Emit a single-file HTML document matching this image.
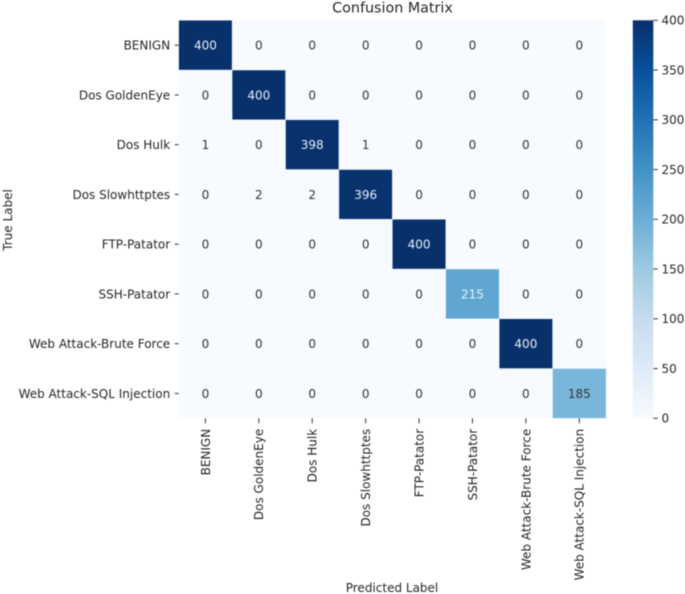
<!DOCTYPE html>
<html>
<head>
<meta charset="utf-8">
<title>Confusion Matrix</title>
<style>
html,body{margin:0;padding:0;background:#fff;width:685px;height:594px;overflow:hidden}
svg{display:block;filter:blur(0.45px)}
text{font-family:"DejaVu Sans",sans-serif;fill:#262626}
</style>
</head>
<body>
<svg id="chart" width="685" height="594" viewBox="0 0 685 594" xmlns="http://www.w3.org/2000/svg">
<defs>
<linearGradient id="blues" x1="0" y1="1" x2="0" y2="0">
<stop offset="0" stop-color="#f7fbff"/>
<stop offset="0.125" stop-color="#deebf7"/>
<stop offset="0.25" stop-color="#c6dbef"/>
<stop offset="0.375" stop-color="#9ecae1"/>
<stop offset="0.5" stop-color="#6baed6"/>
<stop offset="0.625" stop-color="#4292c6"/>
<stop offset="0.75" stop-color="#2171b5"/>
<stop offset="0.875" stop-color="#08519c"/>
<stop offset="1" stop-color="#08306b"/>
</linearGradient>
</defs>
<text x="392.5" y="12.5" font-size="14.3" text-anchor="middle">Confusion Matrix</text>
<text x="392" y="592" font-size="12" text-anchor="middle">Predicted Label</text>
<text x="0" y="0" font-size="12" text-anchor="middle" transform="translate(12,220) rotate(-90)">True Label</text>
<g id="cells"></g>
<g id="xaxis"></g>
<g id="yaxis"></g>
<rect x="632.8" y="20.3" width="20.5" height="398" fill="url(#blues)"></rect>
<g id="cbar"></g>
</svg>
<script>
const categories = ["BENIGN","Dos GoldenEye","Dos Hulk","Dos Slowhttptes","FTP-Patator","SSH-Patator","Web Attack-Brute Force","Web Attack-SQL Injection"];
const row0 = [400,0,0,0,0,0,0,0];
const row1 = [0,400,0,0,0,0,0,0];
const row2 = [1,0,398,1,0,0,0,0];
const row3 = [0,2,2,396,0,0,0,0];
const row4 = [0,0,0,0,400,0,0,0];
const row5 = [0,0,0,0,0,215,0,0];
const row6 = [0,0,0,0,0,0,400,0];
const row7 = [0,0,0,0,0,0,0,185];
const matrix = [row0,row1,row2,row3,row4,row5,row6,row7];
const colorbarTicks = [0,50,100,150,200,250,300,350,400];
const blues = ["#f7fbff","#deebf7","#c6dbef","#9ecae1","#6baed6","#4292c6","#2171b5","#08519c","#08306b"];

const NS = "http://www.w3.org/2000/svg";
const plotLeft = 178.7, plotRight = 606, plotTop = 20.3, plotBottom = 418.3;
const maxValue = 400;
const n = categories.length;
const xBand = i => plotLeft + (plotRight - plotLeft) * i / n;
const yBand = i => plotTop + (plotBottom - plotTop) * i / n;
const cbarY = v => plotBottom - (plotBottom - plotTop) * v / maxValue;

function hexToRgb(h){
  return [parseInt(h.slice(1,3),16),parseInt(h.slice(3,5),16),parseInt(h.slice(5,7),16)];
}
function color(v){
  const t = Math.max(0, Math.min(1, v / maxValue)) * (blues.length - 1);
  const i = Math.min(Math.floor(t), blues.length - 2);
  const a = hexToRgb(blues[i]), b = hexToRgb(blues[i + 1]);
  const f = t - i;
  return "rgb(" + a.map((c, k) => Math.round(c + (b[k] - c) * f)).join(",") + ")";
}
function make(tag, attrs, parent){
  const el = document.createElementNS(NS, tag);
  for (const k in attrs) el.setAttribute(k, attrs[k]);
  parent.appendChild(el);
  return el;
}

const cellsG = document.getElementById("cells");
const xG = document.getElementById("xaxis");
const yG = document.getElementById("yaxis");
const cbarG = document.getElementById("cbar");
const cw = xBand(1) - xBand(0), ch = yBand(1) - yBand(0);

matrix.forEach((row, r) => {
  row.forEach((v, c) => {
    const rect = make("rect", {x: xBand(c), y: yBand(r), width: cw, height: ch, fill: color(v)}, cellsG);
    if (v > 2) {
      rect.setAttribute("stroke", "#dbe8f5");
      rect.setAttribute("stroke-width", 0.5);
    }
    
    
  });
});
matrix.forEach((row, r) => {
  row.forEach((v, c) => {
    const label = make("text", {x: xBand(c) + cw / 2, y: yBand(r) + ch / 2 + 4.4, "font-size": 12, "text-anchor": "middle"}, cellsG);
    label.style.fill = v > 200 ? "#e8f0f8" : "#333333";
    label.textContent = v;
    
    
  });
});

categories.forEach((name, i) => {
  const xc = xBand(i) + cw / 2;
  const yc = yBand(i) + ch / 2;

  const xt = make("line", {x1: xc, x2: xc, y1: plotBottom, y2: plotBottom + 5, stroke: "#333333", "stroke-width": 1}, xG);
  
  

  const xl = make("text", {"font-size": 12, "text-anchor": "end", transform: "translate(" + (xc + 4.4) + "," + (plotBottom + 10.5) + ") rotate(-90)"}, xG);
  xl.textContent = name;
  
  

  const yt = make("line", {x1: plotLeft - 4, x2: plotLeft, y1: yc, y2: yc, stroke: "#333333", "stroke-width": 1}, yG);
  
  

  const yl = make("text", {x: plotLeft - 8.5, y: yc + 4.4, "font-size": 12, "text-anchor": "end"}, yG);
  yl.textContent = name;
  
  
});

colorbarTicks.forEach(v => {
  const y = cbarY(v);
  const t = make("line", {x1: 653.3, x2: 657.8, y1: y, y2: y, stroke: "#333333", "stroke-width": 1}, cbarG);
  
  

  const l = make("text", {x: 661.5, y: y + 4.4, "font-size": 12}, cbarG);
  l.textContent = v;
  
  
});
</script>
</body>
</html>
